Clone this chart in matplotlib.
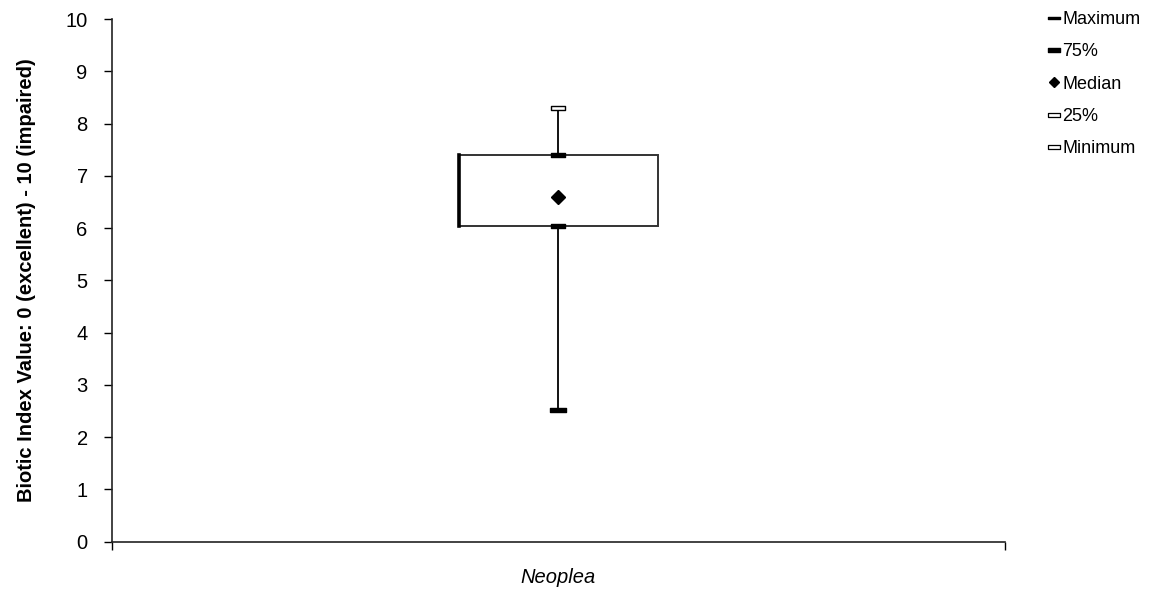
import matplotlib
matplotlib.use("Agg")
import matplotlib.pyplot as plt
from matplotlib.path import Path
from matplotlib.patches import Rectangle
from matplotlib.lines import Line2D

plt.rcParams['font.family'] = ['Liberation Sans', 'DejaVu Sans']

# Box plot summary values (Excel stock-chart style)
categories = ["Neoplea"]
maximum = [8.29]
q75 = [7.39]
median = [6.60]
q25 = [6.04]
minimum = [2.52]
legend_labels = ["Maximum", "75%", "Median", "25%", "Minimum"]


def bar_marker(h):
    # flat rectangle marker, width 2, height 2*h
    verts = [(-1, -h), (1, -h), (1, h), (-1, h), (-1, -h)]
    codes = [Path.MOVETO, Path.LINETO, Path.LINETO, Path.LINETO, Path.CLOSEPOLY]
    return Path(verts, codes)


fig = plt.figure(figsize=(11.69, 5.89), dpi=100)
ax = fig.add_axes([0.0958, 0.0806, 0.7639, 0.8871])

box_w = 0.223
for i, cat in enumerate(categories):
    # whisker
    ax.plot([i, i], [minimum[i], maximum[i]], color="black", lw=1.3, zorder=2)
    # box
    ax.add_patch(Rectangle((i - box_w / 2, q25[i]), box_w, q75[i] - q25[i],
                           facecolor="white", edgecolor="#333333", lw=1.4, zorder=3))
    ax.plot([i - box_w / 2, i - box_w / 2], [q25[i], q75[i]], color="black", lw=2.6, zorder=4)
    # caps
    ax.plot(i, maximum[i], marker=bar_marker(0.28), markersize=10, markerfacecolor="white",
            markeredgecolor="black", markeredgewidth=1.0, linestyle="none", zorder=5)
    ax.plot(i, q75[i], marker=bar_marker(0.3), markersize=10.5, color="black",
            linestyle="none", zorder=5)
    ax.plot(i, q25[i], marker=bar_marker(0.3), markersize=10.5, color="black",
            linestyle="none", zorder=5)
    ax.plot(i, minimum[i], marker=bar_marker(0.3), markersize=11, color="black",
            linestyle="none", zorder=5)
    ax.plot(i, median[i], marker="D", markersize=7.5, color="black", linestyle="none", zorder=6)

ax.set_xlim(-0.5, len(categories) - 0.5)
ax.set_ylim(0, 10)
ax.set_yticks(range(0, 11))
ax.set_xticks([-0.5, len(categories) - 0.5])
ax.set_xticklabels(["", ""])
ax.tick_params(axis="x", direction="out", length=6, width=1, colors="black")
ax.tick_params(axis="y", direction="out", length=6, width=1, labelsize=14.5, pad=11.5)
for i, cat in enumerate(categories):
    ax.text(i, -0.5, cat, ha="center", va="top", fontsize=14.5, fontstyle="italic")

for s in ["top", "right"]:
    ax.spines[s].set_visible(False)
for s in ["left", "bottom"]:
    ax.spines[s].set_linewidth(1.2)
    ax.spines[s].set_color("#222222")

ax.set_ylabel("Biotic Index Value: 0 (excellent) - 10 (impaired)", fontsize=14.5,
              fontweight="bold", labelpad=21)

handles = [
    Line2D([0], [0], linestyle="none", marker=bar_marker(0.14), markersize=8, color="black"),
    Line2D([0], [0], linestyle="none", marker=bar_marker(0.28), markersize=8, color="black"),
    Line2D([0], [0], linestyle="none", marker="D", markersize=5, color="black"),
    Line2D([0], [0], linestyle="none", marker=bar_marker(0.3), markersize=8,
           markerfacecolor="white", markeredgecolor="black", markeredgewidth=0.9),
    Line2D([0], [0], linestyle="none", marker=bar_marker(0.3), markersize=8,
           markerfacecolor="white", markeredgecolor="black", markeredgewidth=0.9),
]
fig.legend(handles, legend_labels, loc="upper left", bbox_to_anchor=(0.885, 1.003),
           frameon=False, fontsize=13, handlelength=0.7, handletextpad=0.15,
           labelspacing=0.85, borderaxespad=0.3)

fig.savefig("out.png", dpi=100)
